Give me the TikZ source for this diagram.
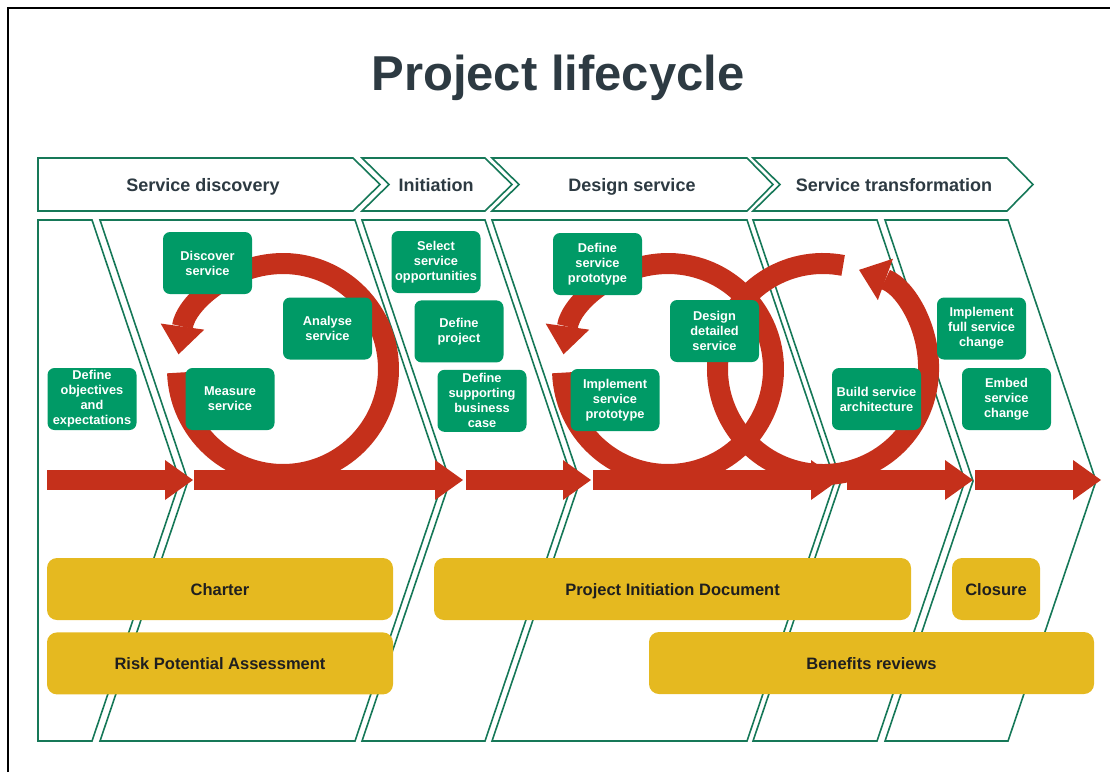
\documentclass[tikz,border=0pt]{standalone}
\usepackage{fontspec}
\setmainfont{Liberation Sans}
\usetikzlibrary{arrows.meta, positioning}

\definecolor{lanegreen}{RGB}{22,120,88}
\definecolor{taskgreen}{RGB}{0,154,102}
\definecolor{docyellow}{RGB}{229,185,32}
\definecolor{flowred}{RGB}{197,48,27}
\definecolor{slate}{RGB}{45,58,66}

\tikzstyle{phase} = [draw=lanegreen, line width=1.6pt, fill=white]
\tikzstyle{lane} = [draw=lanegreen, line width=1.6pt]
\tikzstyle{task} = [rectangle, rounded corners=7pt, minimum width=89pt, minimum height=62pt, inner sep=0pt, fill=taskgreen, text=white, align=center, font=\fontsize{12.8}{15}\selectfont\bfseries]
\tikzstyle{doc} = [rectangle, rounded corners=10pt, minimum height=62pt, inner sep=0pt, text height=12pt, text depth=0pt, fill=docyellow, text=black!88, font=\fontsize{16.5}{19}\selectfont\bfseries]
\tikzstyle{hdr} = [anchor=base, text=slate, font=\fontsize{18}{21}\selectfont\bfseries]
\tikzstyle{headline} = [anchor=base, text=slate, font=\fontsize{49}{55}\selectfont\bfseries]
\tikzstyle{flow} = [draw=flowred, line width=20pt, -{Triangle[length=28pt, width=40pt, line width=0pt]}]
\tikzstyle{ring} = [draw=flowred, line width=21pt, -{Triangle[length=28pt, width=44pt, line width=0pt]}]

\begin{document}
\begin{tikzpicture} [x=1pt, y=-1pt]
\useasboundingbox (0,0) rectangle (1110,772);
\draw [line width=2pt] (8,772) -- (8,8) -- (1110,8);

\node (ttl) [headline] at (558,90) {Project lifecycle};

% phase chevrons
\draw [phase] (38,158) -- (353,158) -- (380,184.5) -- (353,211) -- (38,211) -- cycle;
\draw [phase] (362,158) -- (485,158) -- (512,184.5) -- (485,211) -- (362,211) -- (389,184.5) -- cycle;
\draw [phase] (492,158) -- (747,158) -- (773,184.5) -- (747,211) -- (492,211) -- (519,184.5) -- cycle;
\draw [phase] (753,158) -- (1007,158) -- (1033,184.5) -- (1007,211) -- (753,211) -- (780,184.5) -- cycle;
\node (hd1) [hdr] at (203,191) {Service discovery};
\node (hd2) [hdr] at (436,191) {Initiation};
\node (hd3) [hdr] at (632,191) {Design service};
\node (hd4) [hdr] at (894,191) {Service transformation};

% lanes
\draw [lane] (38,220) -- (92,220) -- (180,481) -- (92,741) -- (38,741) -- cycle;
\draw [lane] (100,220) -- (355,220) -- (443,481) -- (355,741) -- (100,741) -- (188,481) -- cycle;
\draw [lane] (362,220) -- (485,220) -- (573,481) -- (485,741) -- (362,741) -- (450,481) -- cycle;
\draw [lane] (492,220) -- (747,220) -- (835,481) -- (747,741) -- (492,741) -- (580,481) -- cycle;
\draw [lane] (753,220) -- (877,220) -- (965,481) -- (877,741) -- (753,741) -- (841,481) -- cycle;
\draw [lane] (885,220) -- (1008,220) -- (1096,481) -- (1008,741) -- (885,741) -- (973,481) -- cycle;

% flow arrows
\coordinate (s1) at (47,480);  \coordinate (e1) at (193,480);
\coordinate (s2) at (194,480); \coordinate (e2) at (463,480);
\coordinate (s3) at (466,480); \coordinate (e3) at (591,480);
\coordinate (s4) at (593,480); \coordinate (e4) at (839,480);
\coordinate (s5) at (847,480); \coordinate (e5) at (973,480);
\coordinate (s6) at (975,480); \coordinate (e6) at (1101,480);
\draw [flow] (s1) -- (e1);
\draw [flow] (s2) -- (e2);
\draw [flow] (s3) -- (e3);
\draw [flow] (s4) -- (e4);
\draw [flow] (s5) -- (e5);
\draw [flow] (s6) -- (e6);

% loops
\coordinate (c1) at (283,369);
\coordinate (c2) at (668,369);
\coordinate (c3) at (823,369);
\draw [ring] ([shift={(178:105.5)}]c1) arc [start angle=178, end angle=-172, radius=105.5];
\draw [ring] ([shift={(178:105.5)}]c2) arc [start angle=178, end angle=-172, radius=105.5];
\draw [ring] ([shift={(-79:105.5)}]c3) arc [start angle=-79, end angle=-430, radius=105.5];

% tasks
\node (obj) [task] at (92,399) {Define\\objectives\\and\\expectations};
\node (dsc) [task] at (207.5,263) {Discover\\service};
\node (anl) [task] at (327.5,328.5) {Analyse\\service};
\node (msr) [task] at (230,399) {Measure\\service};
\node (sel) [task] at (436,262) {Select\\service\\opportunities};
\node (prj) [task, below=7pt of sel, xshift=23pt] {Define\\project};
\node (bus) [task, below=7pt of prj, xshift=23pt] {Define\\supporting\\business\\case};
\node (dpr) [task] at (597.5,264) {Define\\service\\prototype};
\node (ddt) [task] at (714.5,331) {Design\\detailed\\service};
\node (ipr) [task] at (615,400) {Implement\\service\\prototype};
\node (bld) [task] at (876.5,399) {Build service\\architecture};
\node (ifl) [task] at (981.5,328.5) {Implement\\full service\\change};
\node (emb) [task] at (1006.5,399) {Embed\\service\\change};

% documents
\node (chr) [doc, minimum width=346pt] at (220,589) {Charter};
\node (rsk) [doc, minimum width=346pt, below=12pt of chr] {Risk Potential Assessment};
\node (pid) [doc, minimum width=477pt] at (672.5,589) {Project Initiation Document};
\node (cls) [doc, minimum width=88pt] at (996,589) {Closure};
\node (ben) [doc, minimum width=445pt] at (871.5,663) {Benefits reviews};
\end{tikzpicture}
\end{document}
